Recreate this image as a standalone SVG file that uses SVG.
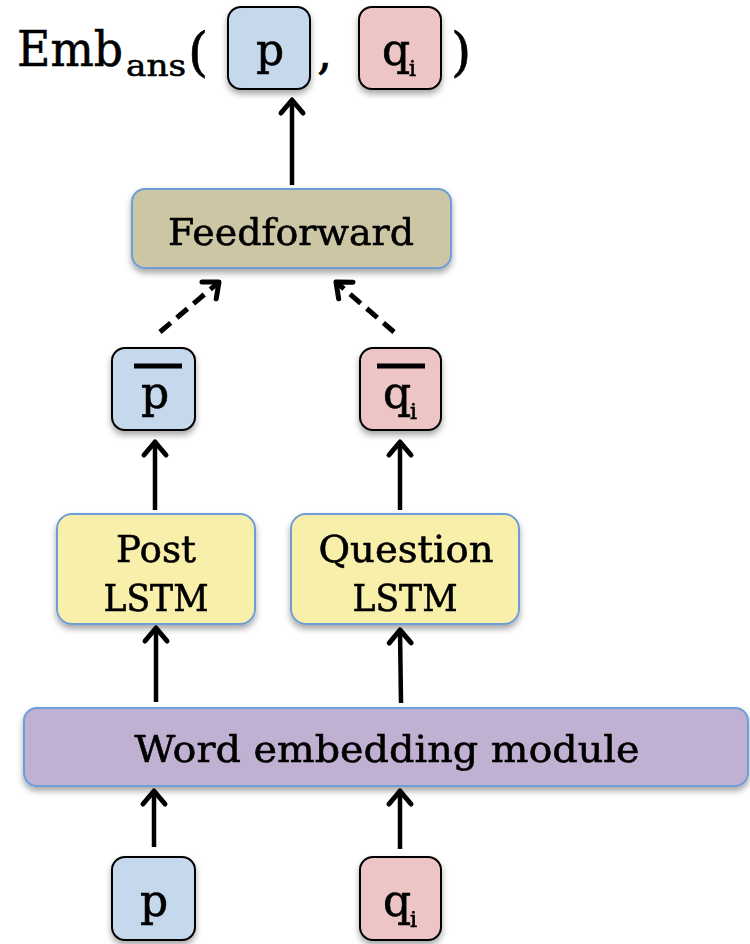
<svg xmlns="http://www.w3.org/2000/svg" width="750" height="944" viewBox="0 0 750 944">
<defs>
<filter id="sh" x="-10%" y="-10%" width="130%" height="140%">
<feDropShadow dx="0" dy="4" stdDeviation="3" flood-color="#000" flood-opacity="0.35"/>
</filter>
<marker id="ah2" markerWidth="30" markerHeight="30" viewBox="-16 -15 20 30" refX="0" refY="0" orient="auto" markerUnits="userSpaceOnUse">
<path d="M-13,-11 L0,0 L-13,11" fill="none" stroke="#000" stroke-width="5" stroke-dasharray="none" stroke-linecap="round" stroke-linejoin="round"/>
</marker>
</defs>
<style>
text{font-family:"DejaVu Serif","Liberation Serif",serif;fill:#000;stroke:#000;stroke-width:0.6}
.t{font-size:38px;text-anchor:middle}
.l{font-size:44px;text-anchor:middle}
.s{font-size:22px}
.blue{fill:#c5d8ec;stroke:#000;stroke-width:2}
.pink{fill:#ecc5c4;stroke:#000;stroke-width:2}
.mod{stroke:#6d9fd6;stroke-width:2}
.c{stroke:#000;stroke-width:4.5;fill:none;marker-end:url(#ah2)}
.d{stroke-dasharray:14 8;stroke-width:5}
</style>

<g id="title">
<text x="17" y="66" style="font-size:48px" textLength="106" lengthAdjust="spacingAndGlyphs">Emb</text>
<text x="126" y="76" style="font-size:30px" textLength="60" lengthAdjust="spacingAndGlyphs">ans</text>
<text x="188" y="70" style="font-size:52px">(</text>
<text x="317" y="68" style="font-size:48px">,</text>
<text x="451" y="70" style="font-size:52px">)</text>
</g>
<g id="out-p" filter="url(#sh)">
<rect x="228" y="7" width="82" height="82" rx="13" class="blue"/>
<text x="270" y="65" class="l">p</text>
</g>
<g id="out-q" filter="url(#sh)">
<rect x="359" y="7" width="82" height="82" rx="13" class="pink"/>
<text x="396" y="65" class="l">q</text>
<text x="409" y="76" class="s">i</text>
</g>

<g id="feedforward" filter="url(#sh)">
<rect x="132" y="189" width="319" height="79" rx="13" fill="#cdc6a5" class="mod"/>
<text x="291" y="245" class="t" textLength="246" lengthAdjust="spacingAndGlyphs">Feedforward</text>
</g>

<g id="pbar" filter="url(#sh)">
<rect x="112" y="348" width="83" height="82" rx="13" class="blue"/>
<line x1="134" y1="366" x2="182" y2="366" stroke="#000" stroke-width="5"/>
<text x="155" y="408" class="l">p</text>
</g>
<g id="qbar" filter="url(#sh)">
<rect x="360" y="348" width="81" height="82" rx="13" class="pink"/>
<line x1="377" y1="366" x2="425" y2="366" stroke="#000" stroke-width="5"/>
<text x="397" y="408" class="l">q</text>
<text x="410" y="419" class="s">i</text>
</g>

<g id="post-lstm" filter="url(#sh)">
<rect x="57" y="514" width="198" height="110" rx="15" fill="#f7efaa" class="mod"/>
<text x="156" y="562" class="t" textLength="80" lengthAdjust="spacingAndGlyphs">Post</text>
<text x="156" y="611" class="t" textLength="105" lengthAdjust="spacingAndGlyphs">LSTM</text>
</g>
<g id="question-lstm" filter="url(#sh)">
<rect x="291" y="514" width="228" height="110" rx="15" fill="#f7efaa" class="mod"/>
<text x="406" y="562" class="t" textLength="175" lengthAdjust="spacingAndGlyphs">Question</text>
<text x="405" y="611" class="t" textLength="105" lengthAdjust="spacingAndGlyphs">LSTM</text>
</g>

<g id="word-embedding" filter="url(#sh)">
<rect x="24" y="708" width="724" height="78" rx="13" fill="#c0b1d2" class="mod"/>
<text x="387" y="762" class="t" textLength="505" lengthAdjust="spacingAndGlyphs">Word embedding module</text>
</g>

<g id="in-p" filter="url(#sh)">
<rect x="112" y="857" width="83" height="83" rx="13" class="blue"/>
<text x="154" y="916" class="l">p</text>
</g>
<g id="in-q" filter="url(#sh)">
<rect x="360" y="857" width="81" height="83" rx="13" class="pink"/>
<text x="397" y="916" class="l">q</text>
<text x="410" y="927" class="s">i</text>
</g>

<g id="connectors">
<line x1="292" y1="185" x2="292" y2="100" class="c"/>
<line x1="160" y1="332" x2="219" y2="282" class="c d"/>
<line x1="394" y1="332" x2="336" y2="282" class="c d"/>
<line x1="155" y1="510" x2="155" y2="442" class="c"/>
<line x1="400" y1="510" x2="400" y2="442" class="c"/>
<line x1="156" y1="702" x2="156" y2="628" class="c"/>
<line x1="401" y1="703" x2="400" y2="630" class="c"/>
<line x1="154" y1="847" x2="154" y2="791" class="c"/>
<line x1="400" y1="849" x2="400" y2="791" class="c"/>
</g>
</svg>
